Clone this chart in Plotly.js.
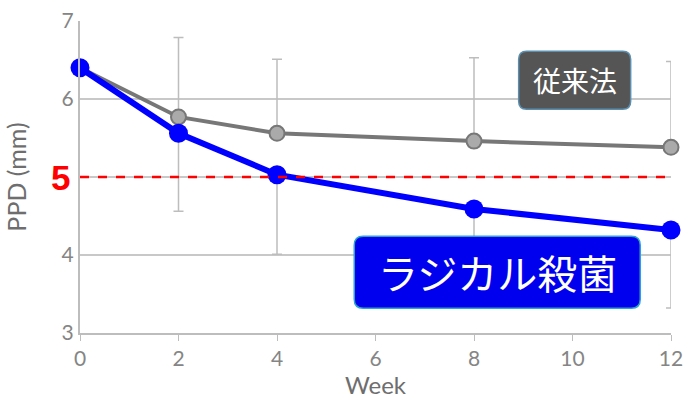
<!DOCTYPE html>
<html>
<head>
<meta charset="utf-8">
<script src="https://cdn.plot.ly/plotly-3.0.1.min.js"></script>
<style>
  body { margin: 0; background: #fff; }
  #chart { width: 694px; height: 406px; }
</style>
</head>
<body>
<div id="chart"></div>
<script>
// weeks and PPD values
var weeks = [0, 2, 4, 8, 12];
var conventional = [6.40, 5.77, 5.56, 5.46, 5.38];
var conventionalErrUp = [0, 1.02, 0.95, 1.07, 1.10];
var radical = [6.40, 5.56, 5.03, 4.59, 4.32];
var radicalErrDown = [0, 1.00, 1.02, 0.95, 1.00];
var threshold = 5;
var yTicks = [3, 4, 5, 6, 7];
var yTickText = ['3', '4', '', '6', '7'];
var xTicks = [0, 2, 4, 6, 8, 10, 12];

var gray = '#777777';
var errColor = '#bdbdbd';

var trace1 = {
    x: weeks,
    y: conventional,
    type: 'scatter',
    mode: 'lines+markers',
    name: '従来法',
    line: { color: gray, width: 4 },
    marker: { color: '#aaaaaa', size: 15, line: { color: gray, width: 2 } },
    error_y: {
        type: 'data', symmetric: false,
        array: conventionalErrUp,
        arrayminus: [0, 0, 0, 0, 0],
        color: errColor, thickness: 1.5, width: 5
    },
    cliponaxis: false
};

var trace2 = {
    x: weeks,
    y: radical,
    type: 'scatter',
    mode: 'lines+markers',
    name: 'ラジカル殺菌',
    line: { color: '#0000ff', width: 6 },
    marker: { color: '#0000ff', size: 19 },
    error_y: {
        type: 'data', symmetric: false,
        array: [0, 0, 0, 0, 0],
        arrayminus: radicalErrDown,
        color: errColor, thickness: 1.5, width: 5
    },
    cliponaxis: false
};

var tickFont = { family: 'Lato, "Open Sans", sans-serif', size: 21, color: '#858585' };

var layout = {
    width: 694,
    height: 406,
    margin: { l: 80, r: 23, t: 21, b: 73 },
    paper_bgcolor: '#ffffff',
    plot_bgcolor: '#ffffff',
    showlegend: false,
    xaxis: {
        range: [0, 12],
        tickvals: xTicks,
        showgrid: false,
        zeroline: false,
        showline: true,
        linecolor: '#bdbdbd',
        linewidth: 2,
        ticks: 'outside',
        ticklen: 6,
        tickcolor: '#bdbdbd',
        tickfont: tickFont,
        title: { text: 'Week', font: { family: 'Lato, "Open Sans", sans-serif', size: 24, color: '#6e6e6e' }, standoff: 6 }
    },
    yaxis: {
        range: [3, 7],
        tickvals: yTicks,
        ticktext: yTickText,
        showgrid: true,
        gridcolor: '#c8c8c8',
        gridwidth: 2,
        zeroline: false,
        showline: true,
        linecolor: '#bdbdbd',
        linewidth: 2,
        ticks: '',
        tickfont: tickFont,
        title: { text: 'PPD (mm)', font: { family: 'Lato, "Open Sans", sans-serif', size: 25, color: '#6e6e6e' }, standoff: 28 }
    },
    shapes: [
        {
            type: 'line', xref: 'paper', x0: 0, x1: 1,
            yref: 'y', y0: threshold, y1: threshold,
            line: { color: '#ff0000', width: 2.5, dash: 'dash' }
        },
        // rounded label boxes
        {
            type: 'path', xref: 'paper', yref: 'paper',
            xsizemode: 'pixel', ysizemode: 'pixel',
            xanchor: 0.837, yanchor: 0.81,
            path: 'M -48,-29 L 48,-29 Q 56,-29 56,-21 L 56,21 Q 56,29 48,29 L -48,29 Q -56,29 -56,21 L -56,-21 Q -56,-29 -48,-29 Z',
            fillcolor: '#555555',
            line: { color: '#5b8fb0', width: 1.5 }
        },
        {
            type: 'path', xref: 'paper', yref: 'paper',
            xsizemode: 'pixel', ysizemode: 'pixel',
            xanchor: 0.706, yanchor: 0.195,
            path: 'M -134,-36 L 134,-36 Q 143,-36 143,-27 L 143,27 Q 143,36 134,36 L -134,36 Q -143,36 -143,27 L -143,-27 Q -143,-36 -134,-36 Z',
            fillcolor: '#0000ee',
            line: { color: '#2aa6c9', width: 1.5 }
        }
    ],
    annotations: [
        {
            xref: 'paper', yref: 'y', x: 0, y: threshold,
            xanchor: 'right', yanchor: 'middle', xshift: -8,
            text: '<b>5</b>', showarrow: false,
            font: { family: 'Arial, "Liberation Sans", sans-serif', size: 35, color: '#ff0000' }
        },
        {
            xref: 'paper', yref: 'paper', x: 0.837, y: 0.81,
            xanchor: 'center', yanchor: 'middle',
            text: '従来法', showarrow: false,
            font: { family: '"Noto Sans CJK JP", sans-serif', size: 28, color: '#ffffff' }
        },
        {
            xref: 'paper', yref: 'paper', x: 0.706, y: 0.195,
            xanchor: 'center', yanchor: 'middle',
            text: 'ラジカル殺菌', showarrow: false,
            font: { family: '"Noto Sans CJK JP", sans-serif', size: 40, color: '#ffffff' }
        }
    ]
};

Plotly.newPlot('chart', [trace1, trace2], layout, { displayModeBar: false });
</script>
</body>
</html>
